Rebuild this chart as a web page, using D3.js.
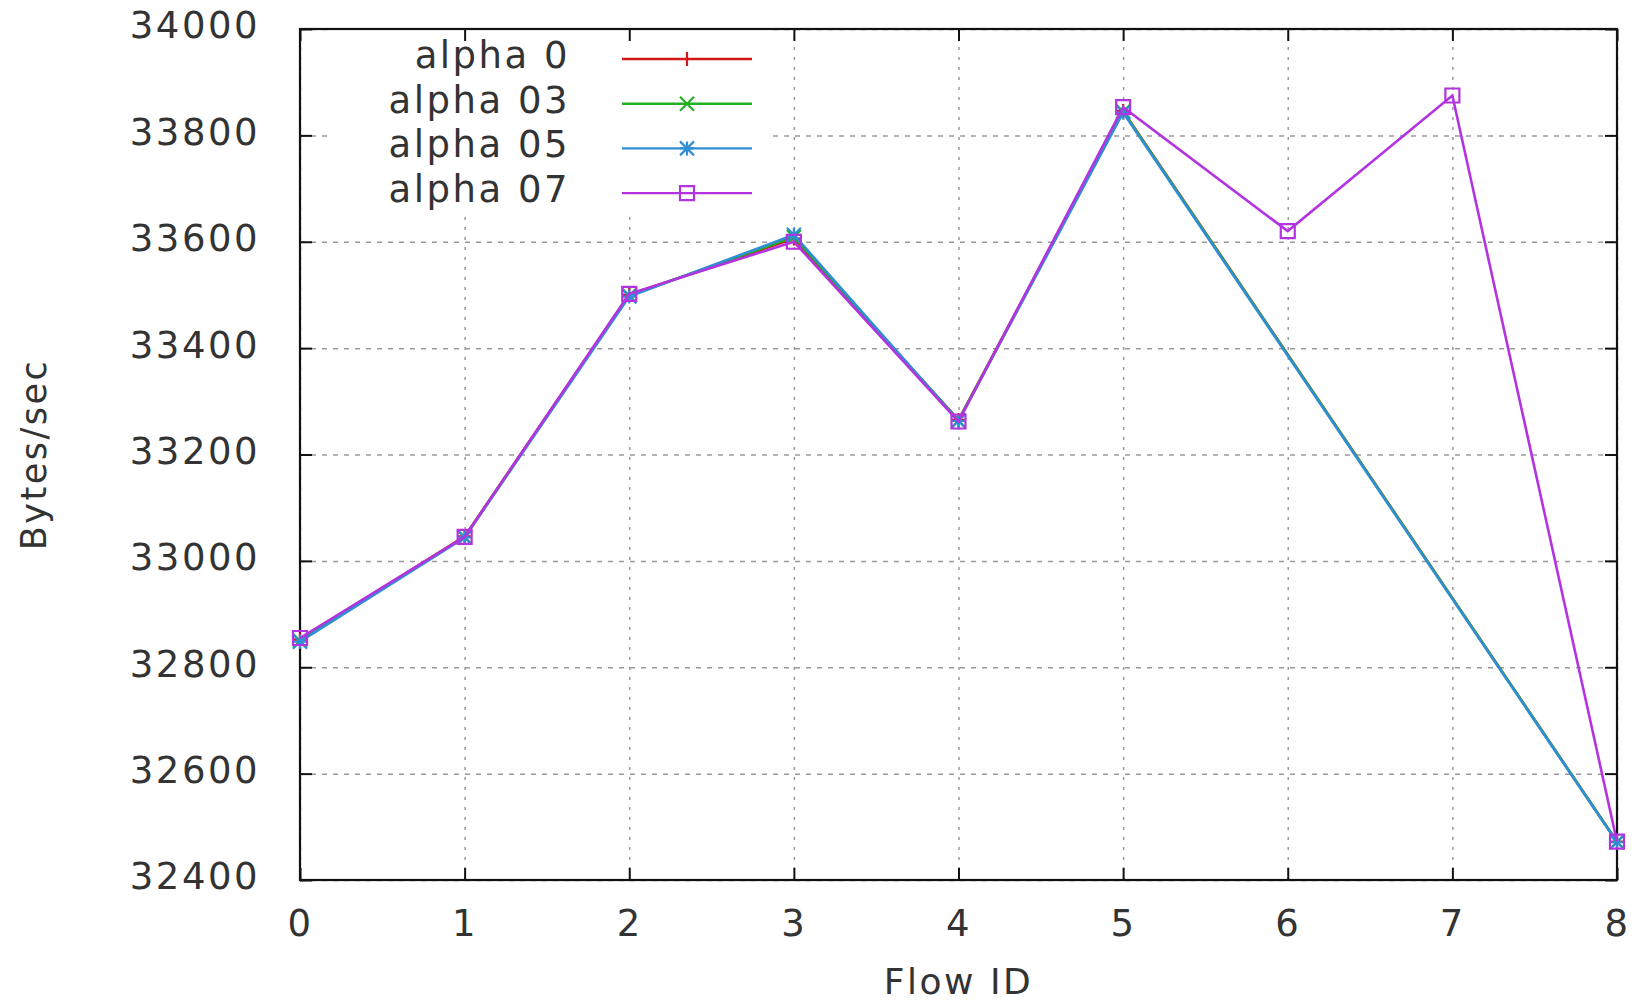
<!DOCTYPE html>
<html>
<head>
<meta charset="utf-8">
<script src="https://cdn.jsdelivr.net/npm/d3@7"></script>
<style>
  html, body { margin: 0; padding: 0; background: #fff; }
  svg text { font-family: "DejaVu Sans", sans-serif; fill: #333; letter-spacing: 2.5px; }
</style>
</head>
<body>
<div id="chart"></div>
<script>
// Flow IDs and throughput per alpha setting
const flowsShort = [0, 1, 2, 3, 4, 5, 8];
const flowsAll = [0, 1, 2, 3, 4, 5, 6, 7, 8];
const alpha0 = [32852, 33046, 33500, 33606, 33265, 33846, 32472];
const alpha03 = [32850, 33045, 33499, 33609, 33264, 33845, 32472];
const alpha05 = [32848, 33044, 33497, 33613, 33263, 33843, 32471];
const alpha07 = [32855, 33045, 33502, 33600, 33262, 33853, 33620, 33875, 32472];

const seriesNames = ['alpha 0', 'alpha 03', 'alpha 05', 'alpha 07'];
const seriesColors = ['#d41818', '#22b022', '#2f8fd6', '#b433e0'];
const seriesMarkers = ['plus', 'cross', 'star', 'square'];

const yTicks = [32400, 32600, 32800, 33000, 33200, 33400, 33600, 33800, 34000];
const xTicks = [0, 1, 2, 3, 4, 5, 6, 7, 8];

const W = 1639, H = 1005;
const plotLeft = 300, plotRight = 1617, plotTop = 29, plotBottom = 880;

const x = d3.scaleLinear().domain([0, 8]).range([plotLeft, plotRight]);
const y = d3.scaleLinear().domain([32400, 34000]).range([plotBottom, plotTop]);

const svg = d3.select('#chart').append('svg')
    .attr('width', W)
    .attr('height', H);

// Grid
svg.append('g')
    .attr('transform', `translate(0,${plotBottom})`)
    .call(d3.axisBottom(x).tickValues(xTicks).tickSize(-(plotBottom - plotTop)).tickFormat(''))
    .call(g => g.select('.domain').remove())
    .call(g => g.selectAll('line').attr('stroke', '#9a9a9a').attr('stroke-width', 1.5).attr('stroke-dasharray', '3,7'));

svg.append('g')
    .attr('transform', `translate(${plotLeft},0)`)
    .call(d3.axisLeft(y).tickValues(yTicks).tickSize(-(plotRight - plotLeft)).tickFormat(''))
    .call(g => g.select('.domain').remove())
    .call(g => g.selectAll('line').attr('stroke', '#9a9a9a').attr('stroke-width', 1.5).attr('stroke-dasharray', '5,6'));

// Opaque key box
svg.append('rect')
    .attr('x', 332).attr('y', plotTop + 1)
    .attr('width', 440).attr('height', 186)
    .attr('fill', '#fff');

// Axes with inward ticks, mirrored on top and right
const tickLen = 12;
const axes = svg.append('g');
axes.append('g')
    .attr('transform', `translate(0,${plotBottom})`)
    .call(d3.axisBottom(x).tickValues(xTicks).tickSize(-tickLen).tickPadding(30).tickFormat(d3.format('d')))
    .call(g => g.select('.domain').remove())
    .call(g => g.selectAll('text').attr('font-size', 37));

axes.append('g')
    .attr('transform', `translate(${plotLeft},0)`)
    .call(d3.axisLeft(y).tickValues(yTicks).tickSize(-tickLen).tickPadding(40).tickFormat(d3.format('d')))
    .call(g => g.select('.domain').remove())
    .call(g => g.selectAll('text').attr('font-size', 37).attr('dy', '0.24em'));

axes.append('g')
    .attr('transform', `translate(0,${plotTop})`)
    .call(d3.axisTop(x).tickValues(xTicks).tickSize(-tickLen).tickFormat(''))
    .call(g => g.select('.domain').remove());

axes.append('g')
    .attr('transform', `translate(${plotRight},0)`)
    .call(d3.axisRight(y).tickValues(yTicks).tickSize(-tickLen).tickFormat(''))
    .call(g => g.select('.domain').remove());

axes.selectAll('.tick line').attr('stroke', '#111').attr('stroke-width', 2);

svg.append('rect')
    .attr('x', plotLeft).attr('y', plotTop)
    .attr('width', plotRight - plotLeft).attr('height', plotBottom - plotTop)
    .attr('fill', 'none')
    .attr('stroke', '#111')
    .attr('stroke-width', 2.2);

// Axis titles
svg.append('text')
    .attr('x', (plotLeft + plotRight) / 2)
    .attr('y', 994)
    .attr('text-anchor', 'middle')
    .attr('font-size', 36)
    .text('Flow ID');

svg.append('text')
    .attr('transform', `translate(46,${(plotTop + plotBottom) / 2}) rotate(-90)`)
    .attr('text-anchor', 'middle')
    .attr('font-size', 35)
    .text('Bytes/sec');

// Marker shapes
function markerPath(type) {
    const s = 7;
    if (type === 'plus') return `M${-s},0H${s}M0,${-s}V${s}`;
    if (type === 'cross') return `M${-s},${-s}L${s},${s}M${-s},${s}L${s},${-s}`;
    if (type === 'star') return `M${-s},0H${s}M0,${-s}V${s}M${-s},${-s}L${s},${s}M${-s},${s}L${s},${-s}`;
    return `M${-s},${-s}H${s}V${s}H${-s}Z`;
}

const data = [
    { xs: flowsShort, ys: alpha0 },
    { xs: flowsShort, ys: alpha03 },
    { xs: flowsShort, ys: alpha05 },
    { xs: flowsAll, ys: alpha07 }
];

const line = d3.line().x(d => x(d[0])).y(d => y(d[1]));

data.forEach((s, i) => {
    const pts = s.xs.map((fx, j) => [fx, s.ys[j]]);
    const g = svg.append('g');
    g.append('path')
        .attr('d', line(pts))
        .attr('fill', 'none')
        .attr('stroke', seriesColors[i])
        .attr('stroke-width', 2.6);
    g.selectAll('path.m')
        .data(pts)
        .enter().append('path')
        .attr('class', 'm')
        .attr('transform', d => `translate(${x(d[0])},${y(d[1])})`)
        .attr('d', markerPath(seriesMarkers[i]))
        .attr('fill', 'none')
        .attr('stroke', seriesColors[i])
        .attr('stroke-width', 2.2);
});

// Legend
const legend = svg.append('g');
seriesNames.forEach((name, i) => {
    const ly = 59 + i * 44.7;
    legend.append('text')
        .attr('x', 570)
        .attr('y', ly)
        .attr('dy', '0.24em')
        .attr('text-anchor', 'end')
        .attr('font-size', 37)
        .text(name);
    legend.append('line')
        .attr('x1', 622).attr('x2', 752)
        .attr('y1', ly).attr('y2', ly)
        .attr('stroke', seriesColors[i])
        .attr('stroke-width', 2.4);
    legend.append('path')
        .attr('transform', `translate(687,${ly})`)
        .attr('d', markerPath(seriesMarkers[i]))
        .attr('fill', 'none')
        .attr('stroke', seriesColors[i])
        .attr('stroke-width', 2.2);
});
</script>
</body>
</html>
